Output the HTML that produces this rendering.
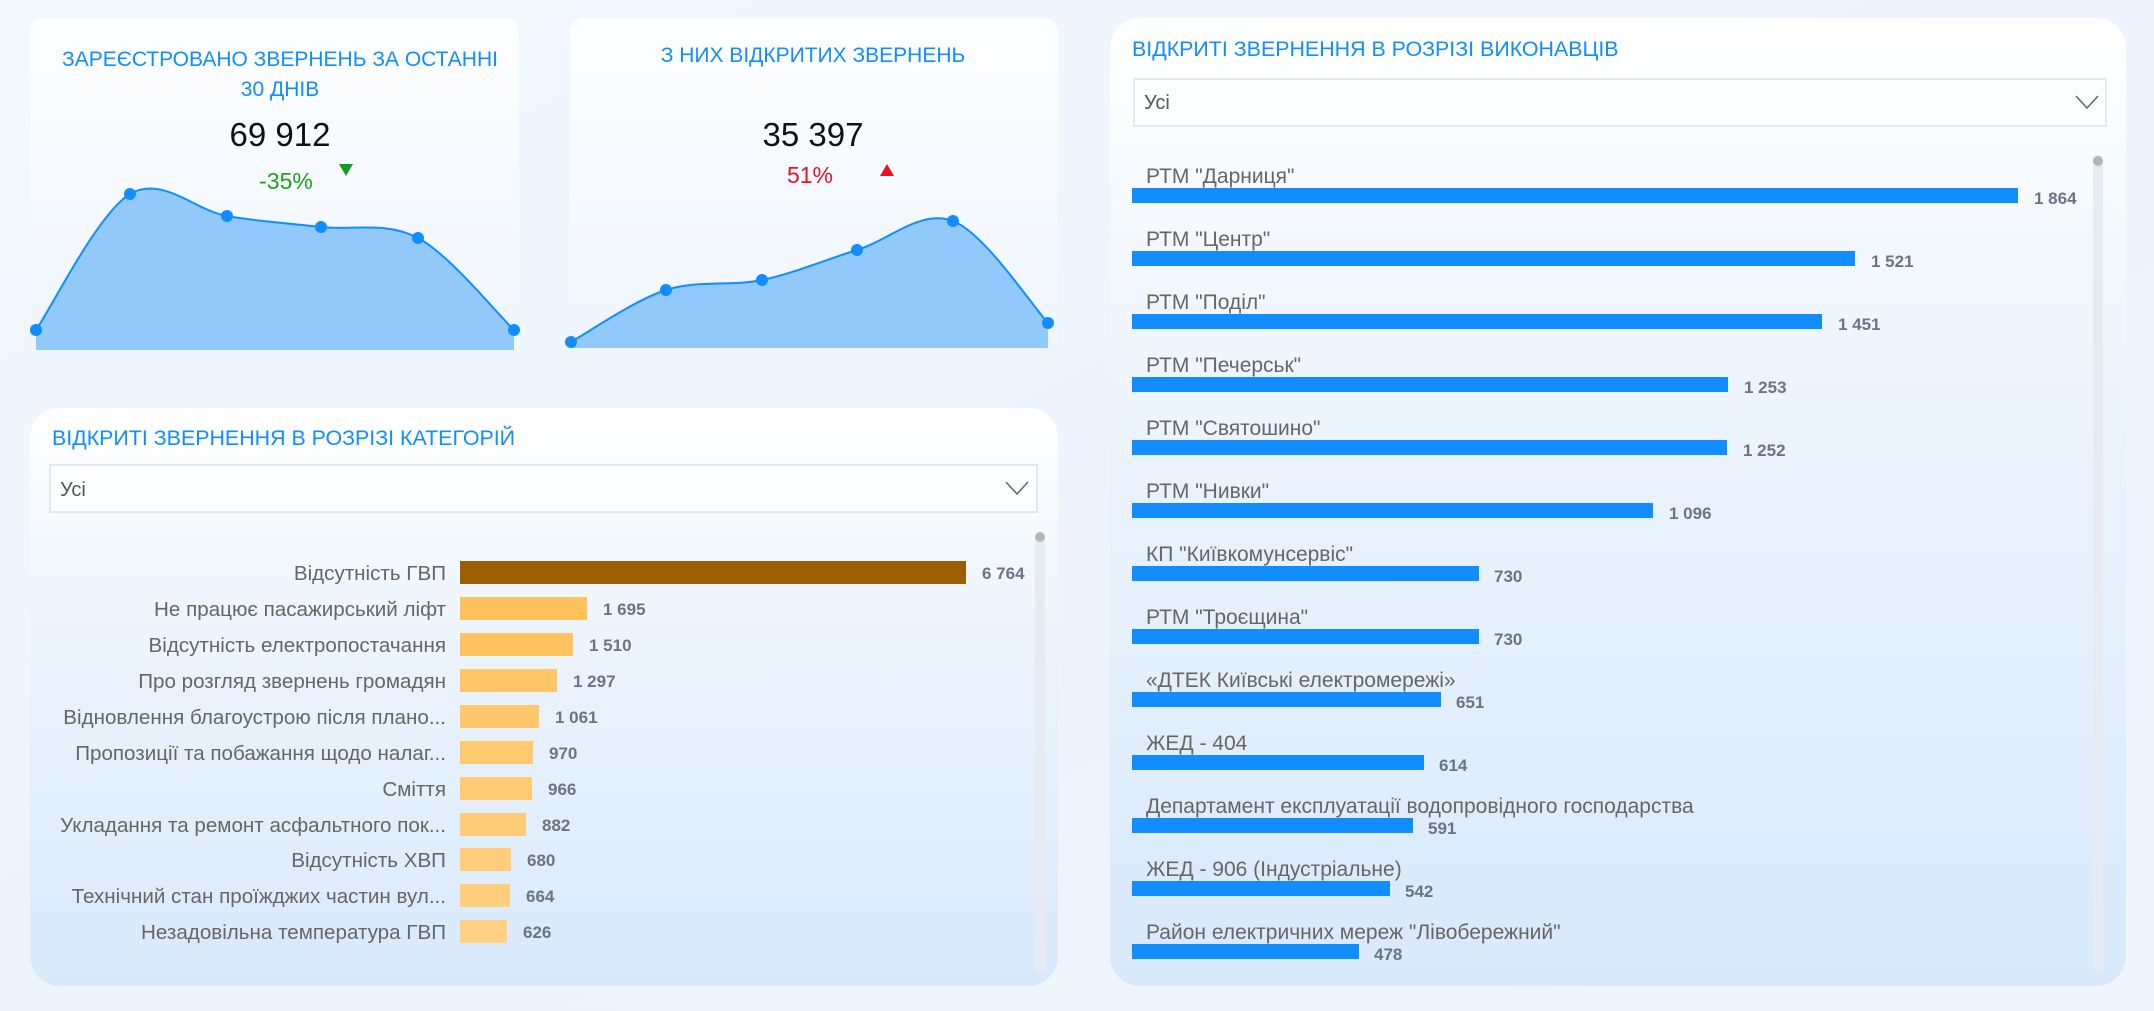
<!DOCTYPE html>
<html><head><meta charset="utf-8"><style>
html,body{margin:0;padding:0;width:2154px;height:1011px;overflow:hidden;background:#eef5fd}
svg{display:block}
text{font-family:"Liberation Sans","DejaVu Sans",sans-serif}
.n{font-family:"Liberation Sans Narrow","Liberation Sans",sans-serif}
</style></head><body>
<svg width="2154" height="1011" viewBox="0 0 2154 1011" xmlns="http://www.w3.org/2000/svg">
<defs>
<linearGradient id="bg" x1="0" y1="0" x2="1" y2="1"><stop offset="0" stop-color="#f3f8fe"/><stop offset="0.5" stop-color="#edf4fd"/><stop offset="1" stop-color="#f0f6fd"/></linearGradient>
<linearGradient id="pk" x1="0" y1="0" x2="0" y2="1"><stop offset="0" stop-color="#fdfeff"/><stop offset="1" stop-color="#eef5fd"/></linearGradient>
<linearGradient id="pb" x1="0" y1="0" x2="0" y2="1"><stop offset="0" stop-color="#ffffff"/><stop offset="0.35" stop-color="#eef5fd"/><stop offset="1" stop-color="#d8e9fb"/></linearGradient>
</defs>
<rect width="2154" height="1011" fill="url(#bg)"/>
<!-- KPI panels -->
<rect x="30" y="18" width="489" height="345" rx="14" fill="url(#pk)"/>
<rect x="570" y="18" width="488" height="345" rx="14" fill="url(#pk)"/>
<text class="n" x="280" y="66" font-size="21" fill="#118dff" text-anchor="middle">ЗАРЕЄСТРОВАНО ЗВЕРНЕНЬ ЗА ОСТАННІ</text>
<text class="n" x="280" y="96" font-size="21" fill="#118dff" text-anchor="middle">30 ДНІВ</text>
<text class="n" x="280" y="146" font-size="33" fill="#111" text-anchor="middle">69 912</text>
<text class="n" x="286" y="189" font-size="23" fill="#1aa31a" text-anchor="middle">-35%</text>
<polygon points="339,164 353,164 346,176" fill="#1a9a1a"/>
<path d="M36,350 L36,330 C51.7,307.3 98.2,213 130,194 C161.8,175 195.2,210.5 227,216 C258.8,221.5 289.2,223.3 321,227 C352.8,230.7 385.8,220.8 418,238 C450.2,255.2 498,314.7 514,330 L514,350 Z" fill="#90c9fa"/>
<path d="M36,330 C51.7,307.3 98.2,213 130,194 C161.8,175 195.2,210.5 227,216 C258.8,221.5 289.2,223.3 321,227 C352.8,230.7 385.8,220.8 418,238 C450.2,255.2 498,314.7 514,330" fill="none" stroke="#118dff" stroke-width="2"/>
<g fill="#118dff"><circle cx="36" cy="330" r="6"/><circle cx="130" cy="194" r="6"/><circle cx="227" cy="216" r="6"/><circle cx="321" cy="227" r="6"/><circle cx="418" cy="238" r="6"/><circle cx="514" cy="330" r="6"/></g>

<text class="n" x="813" y="62" font-size="21" fill="#118dff" text-anchor="middle">З НИХ ВІДКРИТИХ ЗВЕРНЕНЬ</text>
<text class="n" x="813" y="146" font-size="33" fill="#111" text-anchor="middle">35 397</text>
<text class="n" x="810" y="183" font-size="23" fill="#e81123" text-anchor="middle">51%</text>
<polygon points="880,176 894,176 887,164" fill="#e81123"/>
<path d="M571,348 L571,342 C586.8,333.3 634.2,300.3 666,290 C697.8,279.7 730.2,286.7 762,280 C793.8,273.3 825.2,259.8 857,250 C888.8,240.2 921.2,208.8 953,221 C984.8,233.2 1032.2,306 1048,323 L1048,348 Z" fill="#90c9fa"/>
<path d="M571,342 C586.8,333.3 634.2,300.3 666,290 C697.8,279.7 730.2,286.7 762,280 C793.8,273.3 825.2,259.8 857,250 C888.8,240.2 921.2,208.8 953,221 C984.8,233.2 1032.2,306 1048,323" fill="none" stroke="#118dff" stroke-width="2"/>
<g fill="#118dff"><circle cx="571" cy="342" r="6"/><circle cx="666" cy="290" r="6"/><circle cx="762" cy="280" r="6"/><circle cx="857" cy="250" r="6"/><circle cx="953" cy="221" r="6"/><circle cx="1048" cy="323" r="6"/></g>

<!-- Category panel -->
<rect x="30" y="408" width="1028" height="578" rx="30" fill="url(#pb)"/>
<text x="52" y="445" font-size="21.4" fill="#118dff">ВІДКРИТІ ЗВЕРНЕННЯ В РОЗРІЗІ КАТЕГОРІЙ</text>
<rect x="50" y="465" width="987" height="47" fill="#fbfdff" stroke="#e4e7ec" stroke-width="2"/>
<text x="60" y="496" font-size="20" fill="#555">Усі</text>
<polyline points="1006,482 1017,494 1028,482" fill="none" stroke="#666" stroke-width="1.5"/>
<rect x="1035" y="533" width="10" height="440" rx="5" fill="#e6ebf1"/>
<circle cx="1040" cy="537" r="5" fill="#b5b5b5"/>
<g font-size="20.6" fill="#666" text-anchor="end">
<text x="446" y="580">Відсутність ГВП</text>
<text x="446" y="616">Не працює пасажирський ліфт</text>
<text x="446" y="652">Відсутність електропостачання</text>
<text x="446" y="688">Про розгляд звернень громадян</text>
<text x="446" y="724">Відновлення благоустрою після плано...</text>
<text x="446" y="760">Пропозиції та побажання щодо налаг...</text>
<text x="446" y="796">Сміття</text>
<text x="446" y="832">Укладання та ремонт асфальтного пок...</text>
<text x="446" y="867">Відсутність ХВП</text>
<text x="446" y="903">Технічний стан проїжджих частин вул...</text>
<text x="446" y="939">Незадовільна температура ГВП</text>
</g>
<rect x="460" y="561" width="506" height="23" fill="#9b6100"/>
<rect x="460" y="597" width="127" height="23" fill="#ffc15a"/>
<rect x="460" y="633" width="113" height="23" fill="#ffc35f"/>
<rect x="460" y="669" width="97" height="23" fill="#ffc566"/>
<rect x="460" y="705" width="79" height="23" fill="#ffc76b"/>
<rect x="460" y="741" width="73" height="23" fill="#ffc96f"/>
<rect x="460" y="777" width="72" height="23" fill="#ffca72"/>
<rect x="460" y="813" width="66" height="23" fill="#ffcb76"/>
<rect x="460" y="848" width="51" height="23" fill="#ffcd7a"/>
<rect x="460" y="884" width="50" height="23" fill="#ffcf7e"/>
<rect x="460" y="920" width="47" height="23" fill="#ffd183"/>
<g font-size="17" fill="#6b7486" font-weight="bold">
<text x="982" y="579">6 764</text>
<text x="603" y="615">1 695</text>
<text x="589" y="651">1 510</text>
<text x="573" y="687">1 297</text>
<text x="555" y="723">1 061</text>
<text x="549" y="759">970</text>
<text x="548" y="795">966</text>
<text x="542" y="831">882</text>
<text x="527" y="866">680</text>
<text x="526" y="902">664</text>
<text x="523" y="938">626</text>
</g>

<!-- Executors panel -->
<rect x="1110" y="18" width="1016" height="968" rx="30" fill="url(#pb)"/>
<text x="1132" y="56" font-size="21.4" fill="#118dff">ВІДКРИТІ ЗВЕРНЕННЯ В РОЗРІЗІ ВИКОНАВЦІВ</text>
<rect x="1134" y="79" width="972" height="47" fill="#fbfdff" stroke="#e4e7ec" stroke-width="2"/>
<text x="1144" y="109" font-size="20" fill="#555">Усі</text>
<polyline points="2076,96 2087,108 2098,96" fill="none" stroke="#666" stroke-width="1.5"/>
<rect x="2093" y="155" width="10" height="818" rx="5" fill="#e6ebf1"/>
<circle cx="2098" cy="161" r="5" fill="#b5b5b5"/>
<g font-size="21" fill="#666">
<text x="1146" y="183">РТМ "Дарниця"</text>
<text x="1146" y="246">РТМ "Центр"</text>
<text x="1146" y="309">РТМ "Поділ"</text>
<text x="1146" y="372">РТМ "Печерськ"</text>
<text x="1146" y="435">РТМ "Святошино"</text>
<text x="1146" y="498">РТМ "Нивки"</text>
<text x="1146" y="561">КП "Київкомунсервіс"</text>
<text x="1146" y="624">РТМ "Троєщина"</text>
<text x="1146" y="687">«ДТЕК Київські електромережі»</text>
<text x="1146" y="750">ЖЕД - 404</text>
<text x="1146" y="813">Департамент експлуатації водопровідного господарства</text>
<text x="1146" y="876">ЖЕД - 906 (Індустріальне)</text>
<text x="1146" y="939">Район електричних мереж "Лівобережний"</text>
</g>
<g fill="#118dff">
<rect x="1132" y="188" width="886" height="15"/>
<rect x="1132" y="251" width="723" height="15"/>
<rect x="1132" y="314" width="690" height="15"/>
<rect x="1132" y="377" width="596" height="15"/>
<rect x="1132" y="440" width="595" height="15"/>
<rect x="1132" y="503" width="521" height="15"/>
<rect x="1132" y="566" width="347" height="15"/>
<rect x="1132" y="629" width="347" height="15"/>
<rect x="1132" y="692" width="309" height="15"/>
<rect x="1132" y="755" width="292" height="15"/>
<rect x="1132" y="818" width="281" height="15"/>
<rect x="1132" y="881" width="258" height="15"/>
<rect x="1132" y="944" width="227" height="15"/>
</g>
<g font-size="17" fill="#6b7486" font-weight="bold">
<text x="2034" y="204">1 864</text>
<text x="1871" y="267">1 521</text>
<text x="1838" y="330">1 451</text>
<text x="1744" y="393">1 253</text>
<text x="1743" y="456">1 252</text>
<text x="1669" y="519">1 096</text>
<text x="1494" y="582">730</text>
<text x="1494" y="645">730</text>
<text x="1456" y="708">651</text>
<text x="1439" y="771">614</text>
<text x="1428" y="834">591</text>
<text x="1405" y="897">542</text>
<text x="1374" y="960">478</text>
</g>
</svg>
</body></html>
